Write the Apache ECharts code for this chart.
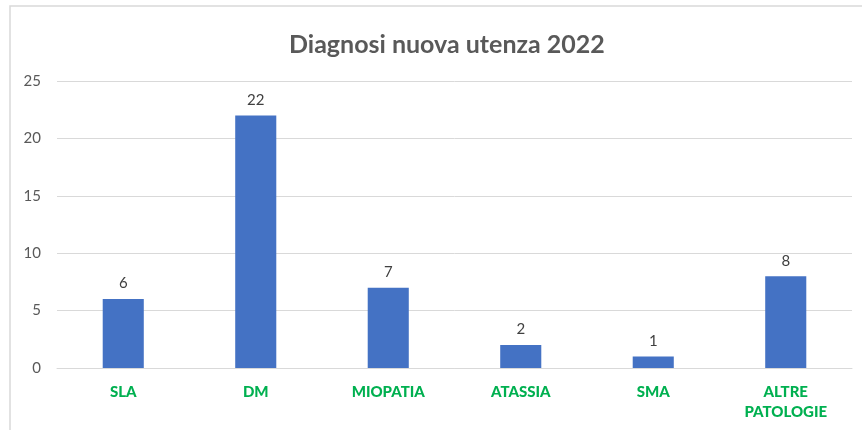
<!DOCTYPE html>
<html>
<head>
<meta charset="utf-8">
<script src="https://cdn.jsdelivr.net/npm/echarts@6/dist/echarts.min.js"></script>
<style>
html, body { margin: 0; padding: 0; background: #fff; }
#chart { width: 862px; height: 430px; }
</style>
</head>
<body>
<div id="chart"></div>
<script>
// dati del grafico
var categorie = ['SLA', 'DM', 'MIOPATIA', 'ATASSIA', 'SMA', 'ALTRE\nPATOLOGIE'];
var valori = [6, 22, 7, 2, 1, 8];
var titolo = 'Diagnosi nuova utenza 2022';

var fontName = 'Lato, "Open Sans", sans-serif';

var myChart = echarts.init(document.getElementById('chart'));

var option = {
	animation : false,
	backgroundColor : '#fff',
	title : {
		text : titolo,
		left : 284,
		top : 27,
		textStyle : {
			fontFamily : fontName,
			fontSize : 25,
			fontWeight : 'bold',
			color : '#595959'
		}
	},
	// cornice esterna
	graphic : [ {
		type : 'rect',
		shape : { x : 10, y : 6, width : 900, height : 500 },
		style : { fill : 'none', stroke : '#d9d9d9', lineWidth : 1.5 },
		silent : true
	} ],
	grid : {
		left : 57,
		right : 10,
		top : 81,
		bottom : 62
	},
	xAxis : {
		type : 'category',
		data : categorie,
		axisTick : { show : false },
		axisLine : { show : true, lineStyle : { color : '#d9d9d9', width : 1 } },
		axisLabel : {
			margin : 14,
			fontFamily : fontName,
			fontSize : 15,
			fontWeight : 900,
			color : '#00b050',
			lineHeight : 20
		}
	},
	yAxis : {
		type : 'value',
		min : 0,
		max : 25,
		interval : 5,
		axisLine : { show : false },
		axisTick : { show : false },
		splitLine : { lineStyle : { color : '#d9d9d9', width : 1 } },
		axisLabel : {
			margin : 16,
			fontFamily : fontName,
			fontSize : 15,
			color : '#595959'
		}
	},
	series : [ {
		type : 'bar',
		data : valori,
		barWidth : '31%',
		itemStyle : { color : '#4472c4' },
		label : {
			show : true,
			position : 'top',
			distance : 8,
			fontFamily : fontName,
			fontSize : 15,
			color : '#404040'
		}
	} ]
};
myChart.setOption(option);
</script>
</body>
</html>
